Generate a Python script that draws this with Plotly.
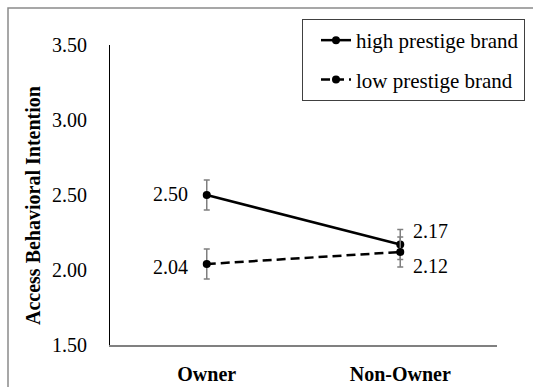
import plotly.graph_objects as go

categories = ["Owner", "Non-Owner"]
high_vals = [2.50, 2.17]
low_vals = [2.04, 2.12]
high_err = [0.10, 0.10]
low_err = [0.10, 0.10]
y_ticks = [1.5, 2.0, 2.5, 3.0, 3.5]
series_names = ["high prestige brand", "low prestige brand"]
y_title = "Access Behavioral Intention"

FONT = "Liberation Serif"
W, H = 533, 387
L, R, T, B = 110, 36, 45, 42
pw, ph = W - L - R, H - T - B

def px_x(p):
    return (p - L) / pw

def px_y(p):
    return 1 - (p - T) / ph

fig = go.Figure()
fig.add_trace(go.Scatter(
    x=categories, y=high_vals, name=series_names[0], mode="lines+markers",
    line=dict(color="black", width=2.5),
    marker=dict(color="black", size=8),
    error_y=dict(type="data", array=high_err, color="#7f7f7f", thickness=1.5, width=3),
    legendgroup="a",
))
fig.add_trace(go.Scatter(
    x=categories, y=low_vals, name=series_names[1], mode="lines+markers",
    line=dict(color="black", width=2.5, dash="9px,5px"),
    marker=dict(color="black", size=8),
    error_y=dict(type="data", array=low_err, color="#7f7f7f", thickness=1.5, width=3),
    legendgroup="b",
))

ann = []
lab_font = dict(family=FONT, size=20, color="black")
for i, v in enumerate(high_vals):
    if i == 0:
        ann.append(dict(x=categories[i], y=v, xref="x", yref="y", text=f"{v:.2f}",
                        showarrow=False, xanchor="right", xshift=-17, yshift=1, font=lab_font))
    else:
        ann.append(dict(x=categories[i], y=v, xref="x", yref="y", text=f"{v:.2f}",
                        showarrow=False, xanchor="left", xshift=11, yshift=14, font=lab_font))
for i, v in enumerate(low_vals):
    if i == 0:
        ann.append(dict(x=categories[i], y=v, xref="x", yref="y", text=f"{v:.2f}",
                        showarrow=False, xanchor="right", xshift=-17, yshift=-3, font=lab_font))
    else:
        ann.append(dict(x=categories[i], y=v, xref="x", yref="y", text=f"{v:.2f}",
                        showarrow=False, xanchor="left", xshift=11, yshift=-14, font=lab_font))
ann.append(dict(x=px_x(33), y=px_y(206), xref="paper", yref="paper", text=f"<b>{y_title}</b>",
                textangle=-90, showarrow=False, xanchor="center", yanchor="middle",
                font=dict(family=FONT, size=20, color="black")))

fig.update_layout(
    template="none",
    width=W, height=H,
    margin=dict(l=L, r=R, t=T, b=B, autoexpand=False),
    paper_bgcolor="white", plot_bgcolor="white",
    font=dict(family=FONT, size=20, color="black"),
    showlegend=True,
    legend=dict(
        x=px_x(525), y=px_y(19), xanchor="right", yanchor="top",
        bordercolor="#404040", borderwidth=1, bgcolor="white",
        font=dict(family=FONT, size=21, color="black"),
        tracegroupgap=9, itemwidth=30, indentation=13,
    ),
    annotations=ann,
    shapes=[dict(type="rect", xref="paper", yref="paper",
                 x0=px_x(8), x1=px_x(620), y0=px_y(460), y1=px_y(8),
                 line=dict(color="#8a8a8a", width=1.5), layer="below")],
)
fig.update_xaxes(
    type="category", range=[-0.5, 1.5], showline=True, linecolor="#808080", linewidth=1.5,
    showgrid=False, zeroline=False, ticks="", automargin=False,
    tickfont=dict(family=FONT, size=20, color="black"),
    tickprefix="<b>", ticksuffix="</b>", ticklabelstandoff=10,
)
fig.update_yaxes(
    range=[1.5, 3.5], tickvals=y_ticks, tickformat=".2f", showline=True, linecolor="black",
    linewidth=1.2, showgrid=False, zeroline=False, ticks="", automargin=False,
    tickfont=dict(family=FONT, size=20, color="black"), ticklabelstandoff=18,
)

fig.write_html("out.html")
